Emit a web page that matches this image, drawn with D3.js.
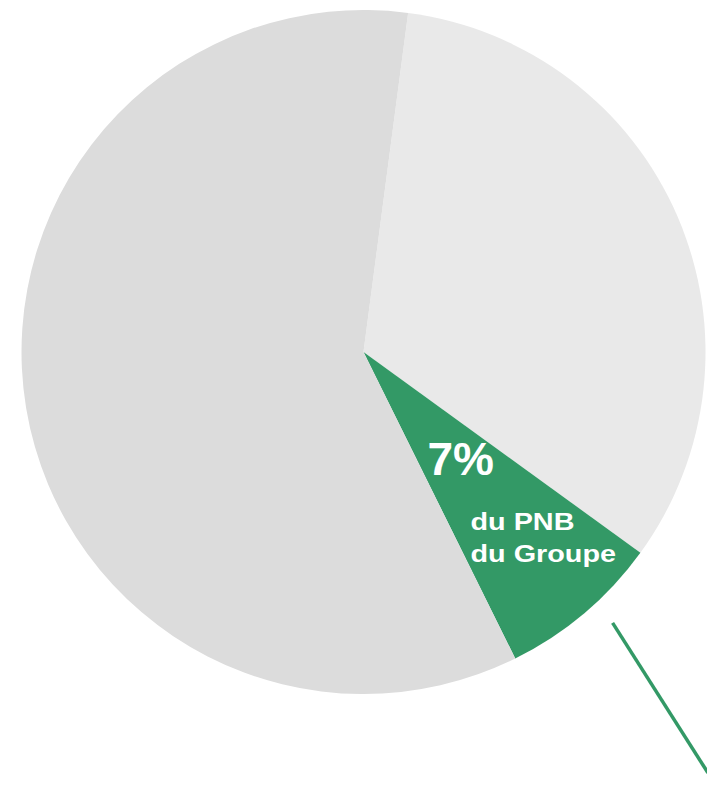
<!DOCTYPE html>
<html>
<head>
<meta charset="utf-8">
<script src="https://cdn.jsdelivr.net/npm/d3@7"></script>
<style>
  body { margin: 0; background: #fff; }
  svg { display: block; }
</style>
</head>
<body>
<div id="figure-container"></div>
<script>
// slices, clockwise from the top
var names = ['Autres A', 'PNB', 'Autres B'];
var values = [32.9, 7.7, 59.4];
var colors = ['#e9e9e9', '#339966', '#dcdcdc'];
var bigLabel = '7%';
var smallLabel = ['du PNB', 'du Groupe'];

var width = 707, height = 786;
var cx = 363.5, cy = 352, radius = 342;
var startAngle = 7.5 * Math.PI / 180;

var svg = d3.select('#figure-container')
  .append('svg')
  .attr('width', width)
  .attr('height', height);

var g = svg.append('g')
  .attr('transform', `translate(${cx},${cy})`);

var pie = d3.pie()
  .sort(null)
  .value(function(d) { return d; })
  .startAngle(startAngle)
  .endAngle(startAngle + 2 * Math.PI);

var arc = d3.arc().innerRadius(0).outerRadius(radius);

var arcs = pie(values);

g.selectAll('path.slice')
  .data(arcs)
  .enter()
  .append('path')
    .attr('class', 'slice')
    .attr('d', arc)
    .attr('fill', function(d, i) { return colors[i]; });

// leader line leaving the green slice
var deg = Math.PI / 180;
var p0 = d3.pointRadial(137.4 * deg, radius * 1.076);
var p1 = d3.pointRadial(140.7 * deg, radius * 1.59);
g.append('line')
  .attr('x1', p0[0]).attr('y1', p0[1])
  .attr('x2', p1[0]).attr('y2', p1[1])
  .attr('stroke', '#339966')
  .attr('stroke-width', 3.5);

// labels inside the green slice
g.append('text')
  .attr('x', 64)
  .attr('y', 123)
  .attr('font-family', 'Liberation Sans, Arial, sans-serif')
  .attr('font-weight', 'bold')
  .attr('font-size', 46)
  .attr('fill', '#fff')
  .text(bigLabel);

// the small label is drawn a bit wider than normal
g.selectAll('text.sub')
  .data(smallLabel)
  .enter()
  .append('text')
    .attr('class', 'sub')
    .attr('transform', function(d, i) { return `translate(107,${178 + i * 32}) scale(1.2,1)`; })
    .attr('font-family', 'Liberation Sans, Arial, sans-serif')
    .attr('font-weight', 'bold')
    .attr('font-size', 24)
    .attr('fill', '#fff')
    .text(function(d) { return d; });
</script>
</body>
</html>
